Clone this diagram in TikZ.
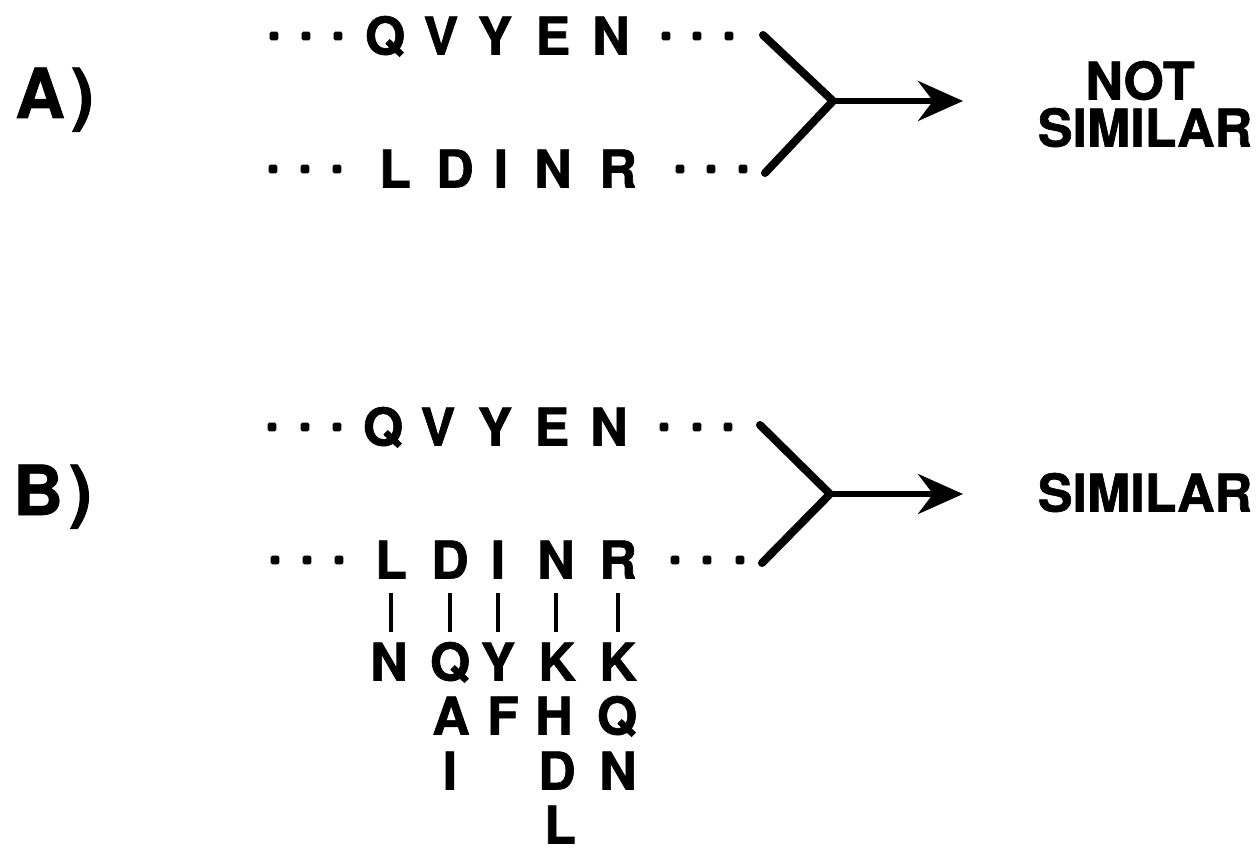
\documentclass[tikz,border=0pt]{standalone}
\usepackage{fontspec}
\setmainfont{TeX Gyre Heros}[BoldFeatures={FakeBold=1.2}]
\usetikzlibrary{arrows.meta}
\tikzset{
  res/.style={font=\fontsize{52}{60}\selectfont\bfseries, inner sep=0pt,
    text height=37pt, text depth=0pt, anchor=center},
  panel/.style={font=\fontsize{69}{80}\selectfont\bfseries, inner sep=0pt,
    anchor=base west},
  dotmark/.pic={\fill[rounded corners=1.6pt] (-4.4,-4.4) rectangle (4.4,4.4);},
  branch/.style={line width=8pt, line cap=round, line join=miter},
  shaft/.style={line width=5.5pt, -{Stealth[length=45pt,width=40pt,inset=15pt]}},
  bar/.style={line width=4pt, shorten <=14pt, shorten >=11pt}
}
\begin{document}
\begin{tikzpicture}[x=1pt,y=-1pt]
\useasboundingbox (0,0) rectangle (1258,853);

% ---------- panel A ----------
\node[panel] (labA) at (15,118) {A\kern6pt)};
\foreach \l/\x [count=\i] in {Q/385,V/441,Y/495,E/553,N/611}
  \node[res] (at\i) at (\x,36) {\l};
\foreach \l/\x [count=\i] in {L/395,D/455,I/501,N/553,R/618}
  \node[res] (ab\i) at (\x,169) {\l};
\foreach \x in {274,306,338,666,697,729} \pic at (\x,36) {dotmark};
\foreach \x in {273,305,337,680,711,743} \pic at (\x,169) {dotmark};

\coordinate (aup) at (763,35);
\coordinate (alo) at (765,173);
\coordinate (aj) at (833,101);
\coordinate (atip) at (963,101);
\draw[branch] (aup) -- (aj) -- (alo);
\draw[shaft] (aj) -- (atip);

\node[res] (notA) at (1140,81) {NOT};
\node[res] (simA) at (1145,128) {SIMILAR};

% ---------- panel B ----------
\node[panel] (labB) at (13,515) {B\kern6pt)};
\foreach \l/\x [count=\i] in {Q/383,V/438,Y/495,E/552,N/609}
  \node[res] (bt\i) at (\x,427) {\l};
\foreach \l/\x [count=\i] in {L/391,D/450,I/498,N/556,R/618}
  \node[res] (bb\i) at (\x,560) {\l};
\foreach \x in {272,305,337,664,697,728} \pic at (\x,427) {dotmark};
\foreach \x in {275,307,339,675,707,740} \pic at (\x,560) {dotmark};

\coordinate (bup) at (760,425);
\coordinate (blo) at (762,563);
\coordinate (bj) at (830,494);
\coordinate (btip) at (963,494);
\draw[branch] (bup) -- (bj) -- (blo);
\draw[shaft] (bj) -- (btip);

\node[res] (simB) at (1145,493) {SIMILAR};

% substitutions listed under each residue
\foreach \l/\x [count=\i] in {N/389,Q/450,Y/498,K/557,K/618}
  \node[res] (ra\i) at (\x,662) {\l};
\foreach \i in {1,...,5}
  \draw[bar] (bb\i.south) -- (bb\i.south |- ra\i.north);
\node[res] (rbA) at (451,716) {A};
\node[res] (rbF) at (503,716) {F};
\node[res] (rbH) at (554,716) {H};
\node[res] (rbQ) at (617,716) {Q};
\node[res] (rcI) at (450,771) {I};
\node[res] (rcD) at (557,771) {D};
\node[res] (rcN) at (618,771) {N};
\node[res] (rdL) at (560,825) {L};
\end{tikzpicture}
\end{document}
